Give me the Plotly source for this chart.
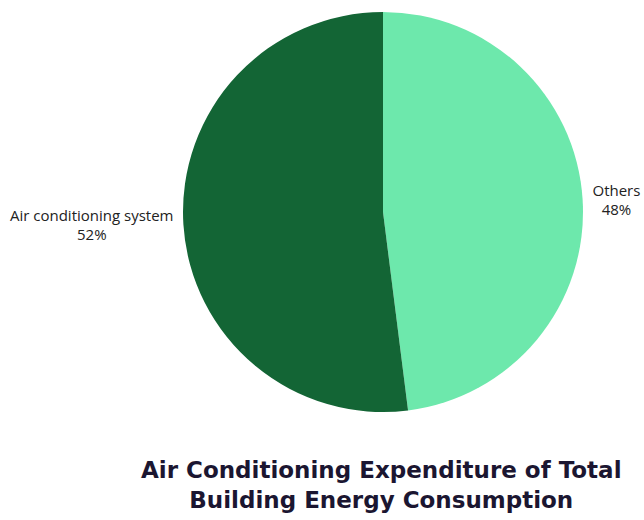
import plotly.graph_objects as go

labels = ["Others", "Air conditioning system"]
values = [48, 52]
colors = ["#6de8ac", "#136535"]
title_text = "Air Conditioning Expenditure of Total<br>Building Energy Consumption"

L, R, T, B = 183, 61, 12, 108  # plot area 183..583 x 12..412 -> pie centre (383,212), r=200

fig = go.Figure(go.Pie(
    labels=labels,
    values=values,
    sort=False,
    direction="clockwise",
    rotation=0,
    marker=dict(colors=colors, line=dict(width=0)),
    texttemplate="%{label}<br>%{percent:.0%}",
    textposition="outside",
    outsidetextfont=dict(family="Open Sans", size=15, color="#222222"),
    showlegend=False,
    hoverinfo="label+percent",
))

pw = 644 - L - R
ph = 520 - T - B
fig.update_layout(
    width=644, height=520,
    margin=dict(l=L, r=R, t=T, b=B, autoexpand=False),
    paper_bgcolor="white",
    plot_bgcolor="white",
    annotations=[dict(
        text="<b>" + title_text + "</b>",
        x=(381 - L) / pw, y=-(485 - (520 - B)) / ph,
        xref="paper", yref="paper",
        xanchor="center", yanchor="middle",
        showarrow=False,
        font=dict(family="DejaVu Sans", size=23, color="#1b1631"),
        align="center",
    )],
)

fig.write_html("out.html")
